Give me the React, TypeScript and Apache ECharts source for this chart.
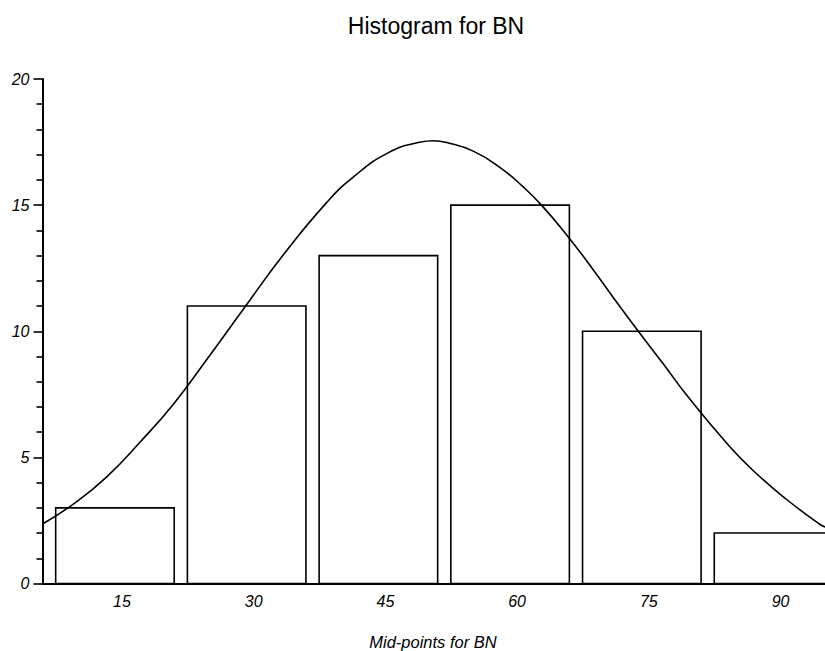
import React, { useEffect, useRef } from "react";
import * as echarts from "echarts";

// Histogram bins (mid-points) and their counts
const midpoints = [15, 30, 45, 60, 75, 90];
const counts = [3, 11, 13, 15, 10, 2];
const binWidth = 15;
const barGap = 1.5;

// Fitted normal curve, sampled along the x axis
const curveX = [
  6.75, 10.3, 14.1, 17.9, 21.7, 25.5, 29.8, 34.2, 39.1, 42.1, 46.0, 49.7, 51.3,
  52.8, 55.8, 58.9, 61.5, 63.6, 66.6, 69.5, 72.5, 74.6, 77.5, 80.1, 84.7, 87.7,
  91.5, 95.3, 95.9,
];
const curveY = [
  2.36, 3.16, 4.24, 5.62, 7.13, 8.9, 10.96, 13.04, 15.1, 16.1, 17.05, 17.49,
  17.55, 17.48, 17.14, 16.48, 15.72, 14.99, 13.75, 12.42, 10.98, 10.0, 8.68,
  7.47, 5.55, 4.47, 3.33, 2.34, 2.24,
];

const yTicks = [0, 5, 10, 15, 20];
const xTickLabels = [15, 30, 45, 60, 75, 90];

const FONT = "'Liberation Sans', Arial, Helvetica, sans-serif";

export default function App() {
  const ref = useRef<HTMLDivElement>(null);

  useEffect(() => {
    if (!ref.current) return;
    const chart = echarts.init(ref.current, undefined, { renderer: "svg" });

    const barData = midpoints.map((m, i) => [m, counts[i]]);
    const lineData = curveX.map((x, i) => [x, curveY[i]]);

    chart.setOption({
      animation: false,
      backgroundColor: "#fff",
      textStyle: { fontFamily: FONT },
      grid: {
        left: 42.5,
        top: 79,
        right: 10.6,
        bottom: 67.5,
        containLabel: false,
        outerBoundsMode: "none",
      },
      graphic: [
        {
          type: "text",
          x: 436,
          y: 26,
          style: {
            text: "Histogram for BN",
            align: "center",
            verticalAlign: "middle",
            fontFamily: FONT,
            fontSize: 23,
            fill: "#000",
          },
        },
      ],
      xAxis: {
        type: "value",
        min: 6.75,
        max: 97.5,
        name: "Mid-points for BN",
        nameLocation: "middle",
        nameGap: 50,
        nameTextStyle: {
          fontFamily: FONT,
          fontStyle: "italic",
          fontSize: 16.5,
          color: "#000",
          padding: [0, 0, 0, -16],
        },
        axisLine: { show: true, lineStyle: { color: "#000", width: 2 } },
        axisTick: { show: false },
        splitLine: { show: false },
        axisLabel: {
          customValues: xTickLabels,
          fontFamily: FONT,
          fontStyle: "italic",
          fontSize: 16,
          color: "#000",
          margin: 10,
          padding: [0, 0, 0, 14],
        },
      },
      yAxis: {
        type: "value",
        min: yTicks[0],
        max: yTicks[yTicks.length - 1],
        interval: 5,
        axisLine: { show: true, lineStyle: { color: "#000", width: 2 } },
        axisTick: { show: true, length: 9, lineStyle: { color: "#000", width: 1.6 } },
        minorTick: { show: true, splitNumber: 5, length: 6, lineStyle: { color: "#000", width: 1.6 } },
        splitLine: { show: false },
        axisLabel: {
          fontFamily: FONT,
          fontStyle: "italic",
          fontSize: 16,
          color: "#000",
          margin: 13,
          padding: [3, 0, 0, 0],
        },
      },
      series: [
        {
          type: "custom",
          z: 2,
          data: barData,
          renderItem: (params: any, api: any) => {
            const mid = api.value(0);
            const count = api.value(1);
            const half = (binWidth - barGap) / 2;
            const p0 = api.coord([mid - half, count]);
            const p1 = api.coord([mid + half, 0]);
            return {
              type: "rect",
              shape: { x: p0[0], y: p0[1], width: p1[0] - p0[0], height: p1[1] - p0[1] },
              style: { fill: "#fff", stroke: "#000", lineWidth: 1.6 },
            };
          },
        },
        {
          type: "line",
          z: 3,
          data: lineData,
          showSymbol: false,
          smooth: 0.5,
          lineStyle: { color: "#000", width: 1.6 },
        },
      ],
    });

    return () => chart.dispose();
  }, []);

  return (
    <div
      style={{
        position: "absolute",
        left: 0,
        top: 0,
        width: 825,
        height: 651,
        overflow: "hidden",
        background: "#fff",
      }}
    >
      <div ref={ref} style={{ width: 850, height: 651 }} />
    </div>
  );
}
